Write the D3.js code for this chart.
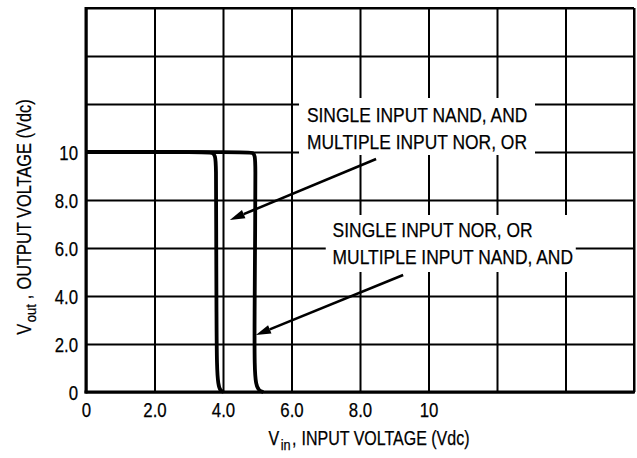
<!DOCTYPE html>
<html>
<head>
<meta charset="utf-8">
<script src="https://cdn.jsdelivr.net/npm/d3@7"></script>
<style>
  html, body { margin: 0; padding: 0; background: #fff; }
  svg { display: block; }
  text { font-family: "Liberation Sans", Arial, sans-serif; fill: #000; stroke: #000; stroke-width: 0.25px; }
</style>
</head>
<body>
<svg id="chart" width="637" height="458"></svg>
<script>
// ---------- data ----------
const xTicks = [0, 2, 4, 6, 8, 10, 12, 14, 16];
const yTicks = [0, 2, 4, 6, 8, 10, 12, 14, 16];
const xTickLabels = ["0", "2.0", "4.0", "6.0", "8.0", "10"];
const yTickLabels = ["0", "2.0", "4.0", "6.0", "8.0", "10"];

// Single input NAND, AND / multiple input NOR, OR  (Vin, Vout)
const curveA_vin  = [0, 3.55, 3.70, 3.77, 3.80, 3.80, 3.81, 3.82, 3.86, 3.92, 4.02];
const curveA_vout = [10, 10, 9.97, 9.85, 9.5, 7.0, 3.0, 1.0, 0.3, 0.05, 0];
// Single input NOR, OR / multiple input NAND, AND
const curveB_vin  = [0, 4.75, 4.88, 4.93, 4.95, 4.94, 4.92, 4.92, 4.96, 5.05, 5.18];
const curveB_vout = [10, 10, 9.97, 9.85, 9.5, 7.0, 3.0, 1.0, 0.3, 0.05, 0];

const annotationLines = [
  ["SINGLE INPUT NAND, AND", "MULTIPLE INPUT NOR, OR"],
  ["SINGLE INPUT NOR, OR", "MULTIPLE INPUT NAND, AND"]
];
// anchor of text (left x, first baseline) in data units
const annotationText = [[6.45, 11.25], [7.2, 6.46]];
// white box behind each label [x0, y0, x1, y1] in data units
const annotationBox = [[6.22, 12.25, 13.11, 9.875], [7.0, 7.375, 14.3, 5.0]];
// arrows [fromVin, fromVout, toVin, toVout]
const arrows = [[8.47, 9.71, 4.20, 7.17], [9.26, 4.875, 4.96, 2.375]];

const xTitleParts = ["V", "in", ",", "INPUT VOLTAGE (Vdc)"];
const yTitleParts = ["V", "out", ",", "OUTPUT VOLTAGE (Vdc)"];

// ---------- layout ----------
const svg = d3.select("#chart");
const L = 86, T = 8, W = 548, H = 384;
const x = d3.scaleLinear().domain([0, 16]).range([L, L + W]);
const y = d3.scaleLinear().domain([0, 16]).range([T + H, T]);

function condense(sel, f) {
  sel.each(function () {
    const n = this.getComputedTextLength();
    d3.select(this).attr("textLength", n * f).attr("lengthAdjust", "spacingAndGlyphs");
  });
}

// grid + labels via axes
const gx = svg.append("g").attr("transform", `translate(0,${T + H})`)
  .call(d3.axisBottom(x).tickValues(xTicks).tickSizeInner(-H).tickSizeOuter(0).tickPadding(11)
    .tickFormat((d, i) => xTickLabels[i] || ""));
const gy = svg.append("g").attr("transform", `translate(${L},0)`)
  .call(d3.axisLeft(y).tickValues(yTicks).tickSizeInner(-W).tickSizeOuter(0).tickPadding(8)
    .tickFormat((d, i) => yTickLabels[i] || ""));
[gx, gy].forEach(g => {
  g.select(".domain").remove();
  g.selectAll(".tick line").attr("stroke", "#000").attr("stroke-width", 2);
  g.selectAll(".tick text").attr("font-size", 20).attr("font-family", "Liberation Sans, Arial, sans-serif").attr("fill", "#000");
  condense(g.selectAll(".tick text"), 0.84);
});
gy.selectAll(".tick text").attr("dy", "0.36em");
gx.selectAll(".tick text").attr("dy", "0.7em");

// frame
svg.append("line").attr("x1", x(0)).attr("x2", x(16)).attr("y1", y(16)).attr("y2", y(16)).attr("stroke", "#000").attr("stroke-width", 2);
svg.append("line").attr("x1", x(16)).attr("x2", x(16)).attr("y1", y(16)).attr("y2", y(0)).attr("stroke", "#000").attr("stroke-width", 2);

// annotation boxes (white)
annotationBox.forEach(b => {
  svg.append("rect")
    .attr("x", x(b[0])).attr("y", y(b[1]))
    .attr("width", x(b[2]) - x(b[0])).attr("height", y(b[3]) - y(b[1]))
    .attr("fill", "#fff");
});

// axes thick lines
svg.append("line").attr("x1", x(0)).attr("x2", x(0)).attr("y1", y(16) - 1).attr("y2", y(0) + 1.5).attr("stroke", "#000").attr("stroke-width", 3);
svg.append("line").attr("x1", x(0) - 1.5).attr("x2", x(16) + 1).attr("y1", y(0)).attr("y2", y(0)).attr("stroke", "#000").attr("stroke-width", 3);

// curves
const line = d3.line().x(d => x(d[0])).y(d => y(d[1])).curve(d3.curveBasis);
[[curveA_vin, curveA_vout], [curveB_vin, curveB_vout]].forEach(([xs, ys]) => {
  svg.append("path")
    .datum(xs.map((v, i) => [v, ys[i]]))
    .attr("d", line)
    .attr("fill", "none").attr("stroke", "#000").attr("stroke-width", 3.8)
    .attr("stroke-linejoin", "round").attr("stroke-linecap", "butt");
});

// annotation text
annotationLines.forEach((lines, k) => {
  const t = svg.append("g");
  lines.forEach((s, j) => {
    t.append("text")
      .attr("x", x(annotationText[k][0]))
      .attr("y", y(annotationText[k][1]) + j * 26.6)
      .attr("font-size", 20.5)
      .text(s);
  });
  condense(t.selectAll("text"), 0.85);
});

// arrows
arrows.forEach(a => {
  const x1 = x(a[0]), y1 = y(a[1]), x2 = x(a[2]), y2 = y(a[3]);
  const ang = Math.atan2(y2 - y1, x2 - x1);
  const len = 15, hw = 4.5;
  const bx = x2 - len * Math.cos(ang), by = y2 - len * Math.sin(ang);
  svg.append("line").attr("x1", x1).attr("y1", y1).attr("x2", bx).attr("y2", by)
    .attr("stroke", "#000").attr("stroke-width", 2.6);
  const px = -Math.sin(ang) * hw, py = Math.cos(ang) * hw;
  svg.append("path")
    .attr("d", `M${x2},${y2}L${bx + px},${by + py}L${bx - px},${by - py}Z`)
    .attr("fill", "#000");
});

// titles built from separate pieces laid out along a baseline
function title(parts, cx, cy, rotate, f, gaps) {
  const g = svg.append("g");
  const inner = g.append("g");
  const sizes = [19.5, 15.5, 19.5, 19.5], dys = [0, 5, 0, 0];
  let cursor = 0;
  parts.forEach((p, i) => {
    const t = inner.append("text").attr("x", cursor).attr("y", dys[i])
      .attr("font-size", sizes[i]).text(p);
    const n = t.node().getComputedTextLength() * f;
    t.attr("textLength", n).attr("lengthAdjust", "spacingAndGlyphs");
    cursor += n + gaps[i];
  });
  inner.attr("transform", `translate(${-cursor / 2},0)`);
  g.attr("transform", `translate(${cx},${cy})` + (rotate ? " rotate(-90)" : ""));
}
title(xTitleParts, 369, 445, false, 0.82, [1.5, 1.5, 5, 0]);
title(yTitleParts, 31, 217, true, 0.84, [1.5, 5, 5, 0]);
</script>
</body>
</html>
